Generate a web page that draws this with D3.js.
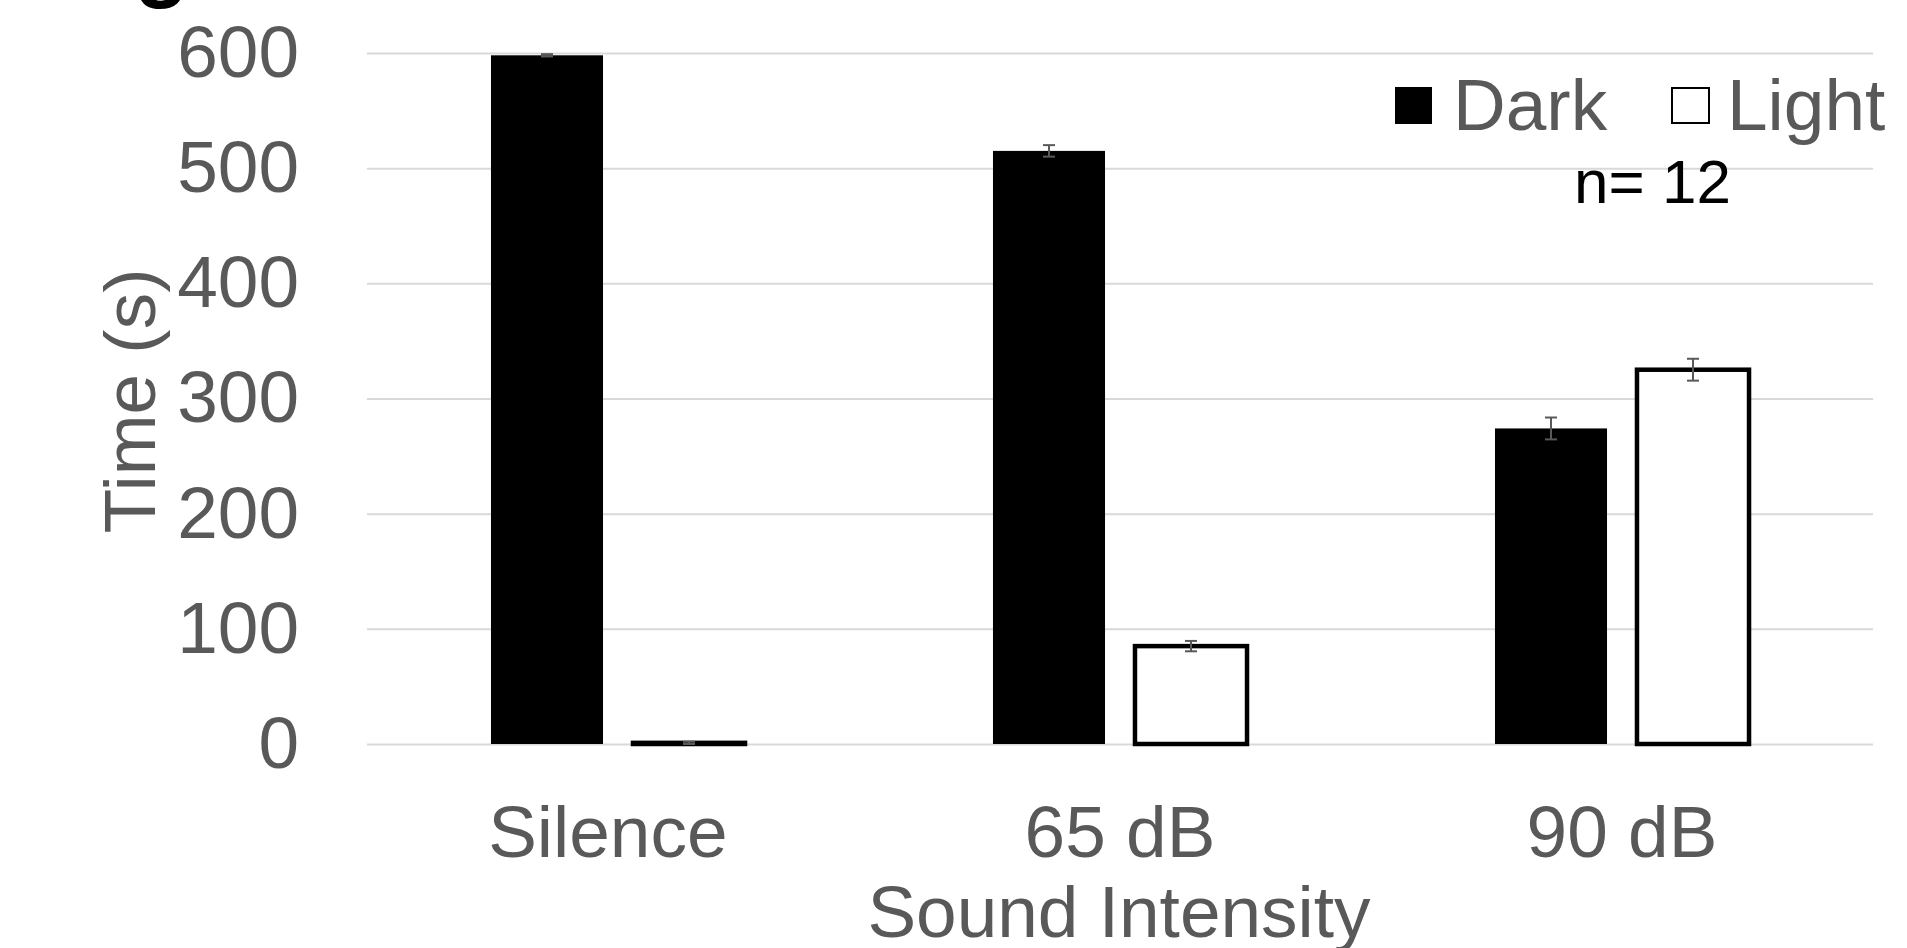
<!DOCTYPE html>
<html>
<head>
<meta charset="utf-8">
<script src="https://cdn.jsdelivr.net/npm/d3@7"></script>
<style>
  html, body { margin: 0; padding: 0; background: #fff; overflow: hidden; }
  svg { display: block; }
  text { font-family: "Liberation Sans", Arial, sans-serif; }
</style>
</head>
<body>
<svg id="chart" width="1907" height="948"></svg>
<script>
// ---- data ----
const categories = ["Silence ", "65 dB", "90 dB"];
const series = ["Dark", "Light"];
const darkValues = [598, 515, 274];
const lightValues = [1, 85, 325];
const darkErrors = [1, 5, 9.5];
const lightErrors = [1, 4.5, 9.5];
const yTicks = [0, 100, 200, 300, 400, 500, 600];
const xTitle = "Sound Intensity";
const yTitle = "Time (s)";
const note = "n= 12";

// ---- layout ----
const plotLeft = 367, plotRight = 1873;
const svg = d3.select("#chart");
const grey = "#595959";
const fontSize = 73;

const rows = [];
categories.forEach((c, i) => {
  rows.push({cat: c, series: "Dark", value: darkValues[i], err: darkErrors[i]});
  rows.push({cat: c, series: "Light", value: lightValues[i], err: lightErrors[i]});
});

const x0 = d3.scaleBand().domain(categories).range([plotLeft, plotRight]);
const x1 = d3.scaleBand().domain(series).range([0, x0.bandwidth()])
  .paddingInner(0.211).paddingOuter(0.873);
const y = d3.scaleLinear().domain([0, 600]).range([744, 53]);

// gridlines
svg.append("g")
  .attr("transform", `translate(${plotLeft},0)`)
  .call(d3.axisLeft(y).tickValues(yTicks).tickSize(-(plotRight - plotLeft)).tickFormat(""))
  .call(g => g.select(".domain").remove())
  .call(g => g.selectAll("line").attr("stroke", "#d9d9d9").attr("stroke-width", 2));

// y axis labels
svg.append("g")
  .attr("transform", `translate(${plotLeft},0)`)
  .call(d3.axisLeft(y).tickValues(yTicks).tickSize(0).tickPadding(68))
  .call(g => g.select(".domain").remove())
  .call(g => g.selectAll("text")
    .attr("font-size", fontSize)
    .attr("fill", grey)
    .attr("font-family", '"Liberation Sans", Arial, sans-serif'));

// bars
const fills = {Dark: "#000000", Light: "#ffffff"};
svg.append("g").selectAll("rect")
  .data(rows).join("rect")
  .attr("x", d => x0(d.cat) + x1(d.series))
  .attr("width", x1.bandwidth())
  .attr("y", d => y(d.value))
  .attr("height", d => y(0) - y(d.value))
  .attr("fill", d => fills[d.series])
  .attr("stroke", d => d.series === "Light" ? "#000" : "none")
  .attr("stroke-width", 4.5);

// error bars
const eg = svg.append("g").attr("stroke", grey).attr("stroke-width", 2);
rows.forEach(d => {
  const cx = x0(d.cat) + x1(d.series) + x1.bandwidth() / 2;
  const yt = y(d.value + d.err), yb = y(Math.max(0, d.value - d.err));
  eg.append("line").attr("x1", cx).attr("x2", cx).attr("y1", yt).attr("y2", yb);
  eg.append("line").attr("x1", cx - 6).attr("x2", cx + 6).attr("y1", yt).attr("y2", yt);
  eg.append("line").attr("x1", cx - 6).attr("x2", cx + 6).attr("y1", yb).attr("y2", yb);
});

// x axis labels
svg.append("g")
  .attr("transform", `translate(0,744)`)
  .call(d3.axisBottom(x0).tickSize(0))
  .call(g => g.select(".domain").remove())
  .call(g => g.selectAll("text")
    .attr("y", 113).attr("dy", 0)
    .attr("font-size", fontSize)
    .attr("fill", grey)
    .style("white-space", "pre")
    .attr("font-family", '"Liberation Sans", Arial, sans-serif'));

// axis titles
svg.append("text")
  .attr("x", 1119).attr("y", 937)
  .attr("text-anchor", "middle")
  .attr("font-size", fontSize).attr("fill", grey)
  .text(xTitle);

svg.append("text")
  .attr("transform", "translate(155,401) rotate(-90)")
  .attr("text-anchor", "middle")
  .attr("font-size", fontSize).attr("fill", grey)
  .text(yTitle);

// legend
const legend = svg.append("g");
legend.append("rect").attr("x", 1395).attr("y", 87).attr("width", 37).attr("height", 37)
  .attr("fill", "#000");
legend.append("text").attr("x", 1453).attr("y", 130)
  .attr("font-size", fontSize).attr("fill", grey).text(series[0]);
legend.append("rect").attr("x", 1672).attr("y", 88).attr("width", 37).attr("height", 35)
  .attr("fill", "#fff").attr("stroke", "#000").attr("stroke-width", 2);
legend.append("text").attr("x", 1727).attr("y", 130)
  .attr("font-size", fontSize).attr("fill", grey).text(series[1]);

// n note
svg.append("text").attr("x", 1574).attr("y", 203)
  .attr("font-size", 62).attr("fill", "#000").text(note);

// cropped panel letter at top-left
svg.append("text").attr("x", 134).attr("y", -10)
  .attr("font-size", 90).attr("font-weight", "bold").attr("fill", "#000").text("g");
</script>
</body>
</html>
